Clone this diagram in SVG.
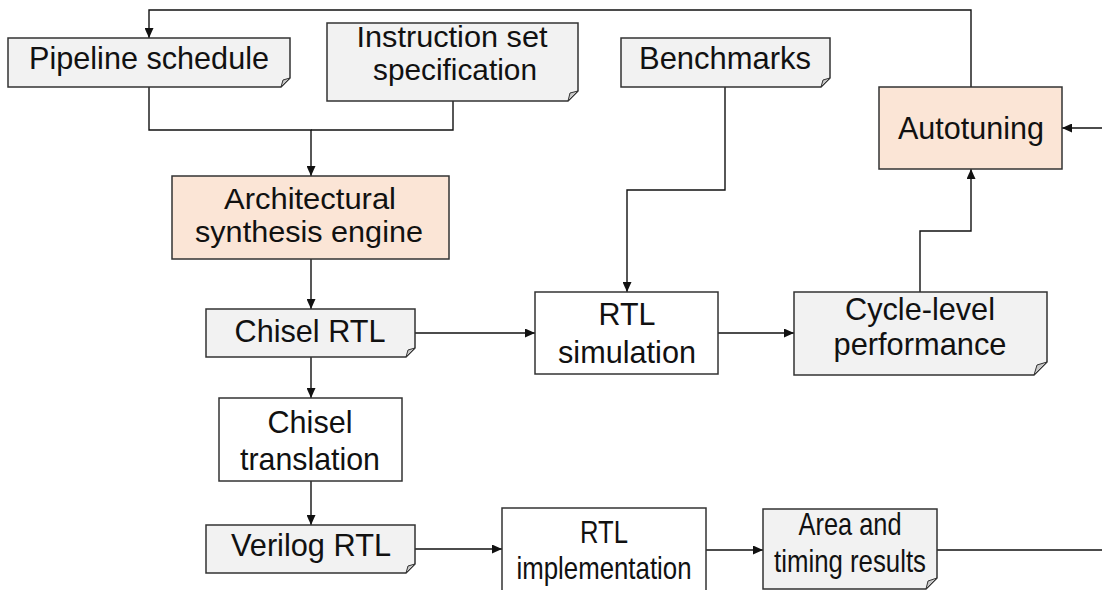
<svg xmlns="http://www.w3.org/2000/svg" width="1102" height="590" viewBox="0 0 1102 590">
  <style>
    .doc { fill: #f2f2f2; stroke: #333; stroke-width: 1.5; }
    .fold { fill: #c9c9c9; stroke: #333; stroke-width: 1; stroke-linejoin: round; }
    .proc { fill: #ffffff; stroke: #333; stroke-width: 1.5; }
    .engine { fill: #fbe5d6; stroke: #333; stroke-width: 1.5; }
    .label { font-family: "Liberation Sans", Arial, sans-serif; font-size: 31.5px; fill: #111; text-anchor: middle; }
    .label.tight { font-size: 29.5px; }
    .wire { fill: none; stroke: #111; stroke-width: 1.4; }
  </style>
  <defs>
    <marker id="arrow" markerUnits="userSpaceOnUse" markerWidth="10" markerHeight="9" refX="10" refY="4.5" orient="auto">
      <path d="M0,0 L10,4.5 L0,9 Z" fill="#111"/>
    </marker>
  </defs>

  <rect x="0" y="0" width="1102" height="590" fill="#ffffff"/>

  <!-- connectors -->
  <g id="connectors" class="wire">
    <polyline points="971,87 971,10 149,10 149,38" marker-end="url(#arrow)"/>
    <polyline points="149,87 149,130 311,130 311,176" marker-end="url(#arrow)"/>
    <polyline points="453,101 453,130 311,130"/>
    <line x1="311" y1="259" x2="311" y2="309" marker-end="url(#arrow)"/>
    <line x1="415" y1="333" x2="535" y2="333" marker-end="url(#arrow)"/>
    <polyline points="725,87 725,190 627,190 627,292" marker-end="url(#arrow)"/>
    <line x1="718" y1="333" x2="794" y2="333" marker-end="url(#arrow)"/>
    <polyline points="920,292 920,231 971,231 971,169" marker-end="url(#arrow)"/>
    <line x1="1102" y1="128" x2="1062" y2="128" marker-end="url(#arrow)"/>
    <line x1="311" y1="357" x2="311" y2="398" marker-end="url(#arrow)"/>
    <line x1="311" y1="481" x2="311" y2="525" marker-end="url(#arrow)"/>
    <line x1="415" y1="549" x2="502" y2="549" marker-end="url(#arrow)"/>
    <line x1="706" y1="550" x2="763" y2="550" marker-end="url(#arrow)"/>
    <line x1="937" y1="550" x2="1102" y2="550"/>
  </g>

  <!-- document-style nodes: rectangle with a folded bottom-right corner -->
  <g id="pipeline-schedule">
    <path class="doc" d="M8,38 H290 V78 L281,87 H8 Z"/>
    <path class="fold" d="M290,78 L281,87 L283,80 Z"/>
    <text class="label" x="149" y="69" textLength="240" lengthAdjust="spacingAndGlyphs">Pipeline schedule</text>
  </g>

  <g id="instruction-set">
    <path class="doc" d="M327,23 H578 V91 L568,101 H327 Z"/>
    <path class="fold" d="M578,91 L568,101 L570,93 Z"/>
    <text class="label tight" x="452" y="47" textLength="191" lengthAdjust="spacingAndGlyphs">Instruction set</text>
    <text class="label tight" x="455" y="80" textLength="164" lengthAdjust="spacingAndGlyphs">specification</text>
  </g>

  <g id="benchmarks">
    <path class="doc" d="M621,38 H830 V78 L821,87 H621 Z"/>
    <path class="fold" d="M830,78 L821,87 L823,80 Z"/>
    <text class="label" x="725" y="69" textLength="172" lengthAdjust="spacingAndGlyphs">Benchmarks</text>
  </g>

  <g id="autotuning">
    <rect class="engine" x="879" y="87" width="183" height="82"/>
    <text class="label" x="971" y="139" textLength="146" lengthAdjust="spacingAndGlyphs">Autotuning</text>
  </g>

  <g id="architectural-synthesis">
    <rect class="engine" x="172" y="176" width="277" height="83"/>
    <text class="label tight" x="310" y="209" textLength="172" lengthAdjust="spacingAndGlyphs">Architectural</text>
    <text class="label tight" x="309" y="242" textLength="228" lengthAdjust="spacingAndGlyphs">synthesis engine</text>
  </g>

  <g id="chisel-rtl">
    <path class="doc" d="M206,309 H415 V348 L406,357 H206 Z"/>
    <path class="fold" d="M415,348 L406,357 L408,350 Z"/>
    <text class="label" x="310" y="342" textLength="151" lengthAdjust="spacingAndGlyphs">Chisel RTL</text>
  </g>

  <g id="rtl-simulation">
    <rect class="proc" x="535" y="292" width="183" height="82"/>
    <text class="label" x="627" y="325" textLength="57" lengthAdjust="spacingAndGlyphs">RTL</text>
    <text class="label" x="627" y="363" textLength="138" lengthAdjust="spacingAndGlyphs">simulation</text>
  </g>

  <g id="cycle-level-performance">
    <path class="doc" d="M794,292 H1047 V362 L1034,375 H794 Z"/>
    <path class="fold" d="M1047,362 L1034,375 L1037,365 Z"/>
    <text class="label" x="920" y="320" textLength="150" lengthAdjust="spacingAndGlyphs">Cycle-level</text>
    <text class="label" x="920" y="355" textLength="173" lengthAdjust="spacingAndGlyphs">performance</text>
  </g>

  <g id="chisel-translation">
    <rect class="proc" x="219" y="398" width="183" height="83"/>
    <text class="label" x="310" y="433" textLength="85" lengthAdjust="spacingAndGlyphs">Chisel</text>
    <text class="label" x="310" y="470" textLength="140" lengthAdjust="spacingAndGlyphs">translation</text>
  </g>

  <g id="verilog-rtl">
    <path class="doc" d="M206,525 H415 V564 L406,573 H206 Z"/>
    <path class="fold" d="M415,564 L406,573 L408,566 Z"/>
    <text class="label" x="311" y="556" textLength="160" lengthAdjust="spacingAndGlyphs">Verilog RTL</text>
  </g>

  <g id="rtl-implementation">
    <rect class="proc" x="502" y="508" width="204" height="90"/>
    <text class="label" x="604" y="543" textLength="48" lengthAdjust="spacingAndGlyphs">RTL</text>
    <text class="label" x="604" y="579" textLength="175" lengthAdjust="spacingAndGlyphs">implementation</text>
  </g>

  <g id="area-timing-results">
    <path class="doc" d="M763,509 H937 V578 L926,589 H763 Z"/>
    <path class="fold" d="M937,578 L926,589 L928,581 Z"/>
    <text class="label" x="850" y="535" textLength="103" lengthAdjust="spacingAndGlyphs">Area and</text>
    <text class="label" x="850" y="572" textLength="152" lengthAdjust="spacingAndGlyphs">timing results</text>
  </g>
</svg>
